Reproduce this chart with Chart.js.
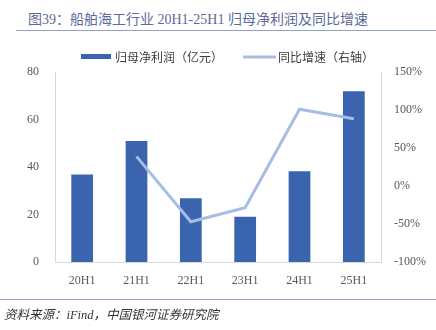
<!DOCTYPE html>
<html><head><meta charset="utf-8">
<script src="https://cdn.jsdelivr.net/npm/chart.js@4/dist/chart.umd.min.js"></script>
<style>
html,body{margin:0;padding:0;background:#fff;}
#wrap{position:relative;width:436px;height:330px;overflow:hidden;}
#title{position:absolute;left:28px;top:8px;font:14px "Liberation Serif","Noto Sans CJK SC",serif;color:#5b6b99;white-space:nowrap;}
#tline{position:absolute;left:16px;top:30px;width:420px;height:0;border-top:1.5px solid #8fa2c9;}
#bline{position:absolute;left:0;top:299px;width:436px;height:0;border-top:1.5px solid #8fa2c9;}
#src{position:absolute;left:4px;top:304px;font:italic 12.5px "Liberation Serif","Noto Sans CJK SC",serif;color:#333;white-space:nowrap;}
canvas{position:absolute;left:0;top:0;}
</style></head><body>
<div id="wrap">
<div id="title">图39：船舶海工行业 20H1-25H1 归母净利润及同比增速</div>
<div id="tline"></div>
<canvas id="c" width="436" height="330"></canvas>
<div id="bline"></div>
<div id="src">资料来源：iFind，中国银河证券研究院</div>
</div>
<script>
const categories = ['20H1','21H1','22H1','23H1','24H1','25H1'];
const profit = [36.8, 51.0, 26.8, 19.1, 38.2, 71.9];
const growth = [null, 39, -47, -28.5, 101, 88.6];
const leftTicks = [0,20,40,60,80];
const rightTicks = [-100,-50,0,50,100,150];
const seriesNames = ['归母净利润（亿元）','同比增速（右轴）'];

const barColor = '#3a64ad';
const lineColor = '#a6bde5';
const tickFont = {family:'"Liberation Serif", serif', size:12};

const legendPlugin = {
  id:'customLegend',
  afterDraw(chart){
    const ctx = chart.ctx;
    const barDs = chart.data.datasets.find(d=>d.type==='bar');
    const lineDs = chart.data.datasets.find(d=>d.type==='line');
    ctx.save();
    ctx.font = '12px "Noto Sans CJK SC", sans-serif';
    ctx.textBaseline = 'middle';
    ctx.fillStyle = barDs.backgroundColor;
    ctx.fillRect(81, 54, 30, 5);
    ctx.fillStyle = '#404040';
    ctx.fillText(barDs.label, 115, 57);
    ctx.strokeStyle = lineDs.borderColor;
    ctx.lineWidth = 3;
    ctx.beginPath(); ctx.moveTo(243,57); ctx.lineTo(276,57); ctx.stroke();
    ctx.fillText(lineDs.label, 278, 57);
    ctx.restore();
  }
};

new Chart(document.getElementById('c'), {
  data:{
    labels:categories,
    datasets:[
      {type:'line', label:seriesNames[1], data:growth, yAxisID:'y1', borderColor:lineColor, backgroundColor:lineColor, borderWidth:3, pointRadius:0, tension:0, spanGaps:false, order:0},
      {type:'bar', label:seriesNames[0], data:profit, yAxisID:'y', backgroundColor:barColor, borderWidth:0, barPercentage:0.4, categoryPercentage:1.0, order:1}
    ]
  },
  plugins:[legendPlugin],
  options:{
    responsive:false, animation:false,
    layout:{padding:{top:72,left:0,right:0,bottom:0}},
    plugins:{legend:{display:false}, tooltip:{enabled:false}, title:{display:false}},
    scales:{
      x:{
        grid:{display:false, drawTicks:false},
        border:{display:true, color:'#d9d9d9'},
        ticks:{font:tickFont, color:'#595959', padding:12},
        afterFit(s){ s.height = 68; }
      },
      y:{
        position:'left', min:0, max:80,
        grid:{display:false, drawTicks:false},
        border:{display:true, color:'#d9d9d9'},
        afterBuildTicks(s){ s.ticks = leftTicks.map(v=>({value:v})); },
        ticks:{font:tickFont, color:'#595959', padding:16},
        afterFit(s){ s.width = 55; }
      },
      y1:{
        position:'right', min:-100, max:150,
        grid:{display:false, drawTicks:false},
        border:{display:true, color:'#d9d9d9'},
        afterBuildTicks(s){ s.ticks = rightTicks.map(v=>({value:v})); },
        ticks:{font:tickFont, color:'#595959', padding:13, callback:v=>v+'%'},
        afterFit(s){ s.width = 55; }
      }
    }
  }
});
</script>
</body></html>
